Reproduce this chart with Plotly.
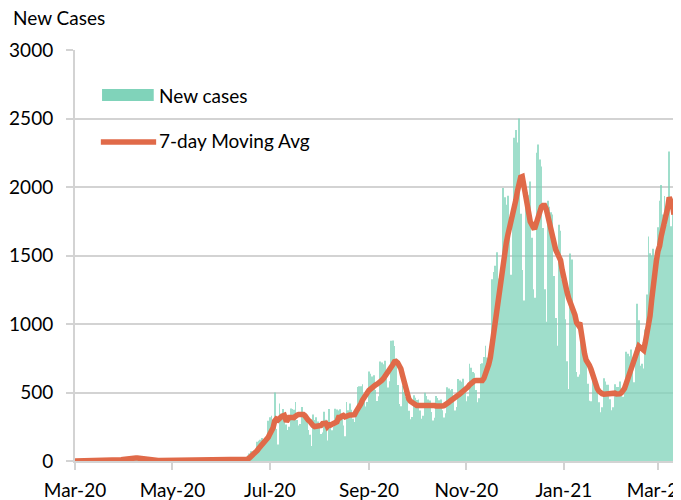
import pandas as pd
import plotly.graph_objects as go

start_date = "2020-03-01"

new_cases = [
    0, 0, 1, 2, 1, 3, 2,
    1, 2, 4, 3, 5, 4, 2,
    3, 2, 5, 6, 4, 7, 3,
    4, 5, 9, 8, 10, 12, 6,
    8, 10, 22, 25, 28, 30, 18,
    14, 15, 28, 24, 20, 16, 10,
    4, 3, 6, 5, 4, 5, 3,
    2, 3, 5, 4, 6, 5, 3,
    3, 4, 6, 5, 4, 6, 3,
    2, 3, 7, 6, 5, 4, 3,
    3, 4, 6, 7, 5, 6, 4,
    3, 5, 7, 6, 6, 5, 4,
    4, 5, 8, 6, 7, 6, 4,
    3, 5, 7, 6, 5, 6, 3,
    4, 5, 6, 7, 6, 5, 4,
    5, 10, 24, 40, 55, 72, 70,
    69, 84, 140, 148, 155, 168, 149,
    133, 168, 293, 319, 330, 300, 500,
    234, 120, 420, 347, 380, 330, 266,
    227, 250, 384, 380, 374, 430, 300,
    259, 270, 394, 351, 308, 284, 227,
    191, 110, 340, 299, 320, 288, 259,
    197, 208, 360, 301, 150, 380, 241,
    225, 248, 382, 376, 369, 377, 315,
    259, 180, 430, 371, 420, 374, 308,
    285, 332, 540, 546, 545, 561, 470,
    398, 430, 654, 636, 617, 626, 519,
    438, 472, 726, 719, 706, 732, 621,
    536, 582, 878, 880, 840, 748, 554,
    416, 400, 552, 506, 468, 457, 367,
    304, 322, 480, 462, 446, 449, 369,
    308, 330, 498, 475, 449, 442, 358,
    296, 315, 475, 460, 444, 449, 371,
    317, 348, 538, 529, 517, 526, 437,
    368, 395, 598, 587, 578, 600, 509,
    437, 472, 710, 681, 649, 641, 518,
    428, 458, 708, 713, 759, 842, 756,
    694, 808, 1326, 1380, 1425, 1524, 1332,
    1185, 1312, 1992, 1926, 1870, 1936, 1665,
    1360, 1732, 2360, 2416, 2325, 2500, 1805,
    1395, 1172, 1922, 1961, 1940, 2041, 1630,
    1254, 1191, 2250, 2310, 2200, 2150, 1700,
    1254, 1016, 1900, 1855, 1815, 1800, 1350,
    1044, 841, 1725, 1680, 1325, 1310, 1035,
    729, 526, 1515, 1470, 1115, 1065, 650,
    615, 632, 912, 840, 776, 732, 563,
    439, 436, 624, 575, 534, 528, 428,
    356, 392, 604, 581, 556, 556, 450,
    371, 392, 560, 540, 540, 580, 500,
    469, 516, 798, 782, 765, 814, 711,
    574, 831, 1148, 1027, 695, 709, 676,
    959, 1216, 1638, 1517, 1500, 1549, 1341,
    1484, 1706, 1900, 2015, 1800, 1934, 1726,
    1834, 2260, 1714, 1832, 1290,
]

y_ticks = [0, 500, 1000, 1500, 2000, 2500, 3000]

dates = pd.date_range(start_date, periods=len(new_cases), freq="D")
moving_avg = pd.Series(new_cases).rolling(7, min_periods=1).mean()

BAR_COLOR = "#80D3BA"
LINE_COLOR = "#E06A49"
GRID = "#D3D3D3"
FONT = "Lato"
FS = 19

fig = go.Figure()
fig.add_trace(go.Bar(x=dates, y=new_cases, marker=dict(color=BAR_COLOR, line=dict(width=0)),
                     opacity=0.75, name="New cases"))
fig.add_trace(go.Scatter(x=dates, y=moving_avg, mode="lines",
                         line=dict(color=LINE_COLOR, width=5.5), name="7-day Moving Avg"))

fig.update_layout(
    width=673, height=492,
    margin=dict(l=67, r=5, t=42, b=39),
    paper_bgcolor="white", plot_bgcolor="white",
    showlegend=False, bargap=0.5,
    font=dict(family=FONT, size=FS, color="#000000"),
)
fig.update_xaxes(
    type="date", range=["2020-03-01", "2021-03-12 06:00"],
    tick0="2020-03-01", dtick="M2", tickformat="%b-%y",
    showgrid=False, showline=True, linecolor=GRID, linewidth=2,
    ticks="outside", ticklen=7, tickcolor=GRID, tickwidth=2,
    tickfont=dict(family=FONT, size=FS), ticklabelstandoff=4,
    ticklabeloverflow="allow", automargin=False,
)
fig.update_yaxes(
    range=[0, 3000], tickvals=y_ticks,
    showgrid=True, gridcolor=GRID, gridwidth=2,
    showline=True, linecolor=GRID, linewidth=2, zeroline=False,
    ticks="outside", ticklen=7, tickcolor=GRID, tickwidth=2,
    tickfont=dict(family=FONT, size=FS), ticklabelstandoff=9,
    automargin=False,
)

# title
fig.add_annotation(text="New Cases", xref="paper", yref="paper", x=-0.1065, y=1.078,
                   xanchor="left", yanchor="middle", showarrow=False,
                   font=dict(family=FONT, size=FS))
# custom legend
fig.add_shape(type="rect", xref="paper", yref="paper", x0=0.045, x1=0.131, y0=0.876, y1=0.905,
              fillcolor=BAR_COLOR, line=dict(width=0))
fig.add_annotation(text="New cases", xref="paper", yref="paper", x=0.136, y=0.8905,
                   xanchor="left", yanchor="middle", showarrow=False,
                   font=dict(family=FONT, size=FS))
fig.add_shape(type="line", xref="paper", yref="paper", x0=0.043, x1=0.135, y0=0.776, y1=0.776,
              line=dict(color=LINE_COLOR, width=5.5))
fig.add_annotation(text="7-day Moving Avg", xref="paper", yref="paper", x=0.136, y=0.7786,
                   xanchor="left", yanchor="middle", showarrow=False,
                   font=dict(family=FONT, size=FS))

fig.write_html("out.html")
